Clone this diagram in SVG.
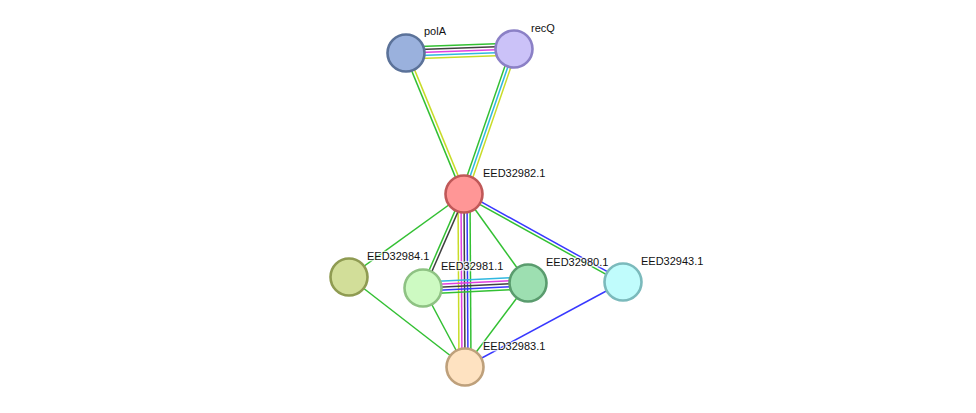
<svg xmlns="http://www.w3.org/2000/svg" width="976" height="413" viewBox="0 0 976 413">
<style>
.e{stroke-width:1.5;fill:none}
.g{stroke:#33c033}.y{stroke:#c8dc28}.k{stroke:#404040}.m{stroke:#e040e0}.c{stroke:#30b8e0}.b{stroke:#3838ff}
.n{stroke-width:2.6}
text{font-family:"Liberation Sans",Arial,sans-serif;font-size:11px;fill:#111;paint-order:stroke;stroke:#fff;stroke-width:2.5px;stroke-opacity:0.7}
</style>
<rect width="976" height="413" fill="#fff"/>
<g id="edges">
<line class="e g" x1="406" y1="47" x2="514" y2="43"/>
<line class="e k" x1="406" y1="50" x2="514" y2="46"/>
<line class="e m" x1="406" y1="53" x2="514" y2="49"/>
<line class="e c" x1="406" y1="56" x2="514" y2="52"/>
<line class="e y" x1="406" y1="59" x2="514" y2="55"/>
<line class="e g" x1="404.6" y1="53.6" x2="462.6" y2="194.6"/>
<line class="e y" x1="407.4" y1="52.4" x2="465.4" y2="193.4"/>
<line class="e g" x1="511.2" y1="48" x2="461.2" y2="193"/>
<line class="e c" x1="514" y1="49" x2="464" y2="194"/>
<line class="e y" x1="516.8" y1="50" x2="466.8" y2="195"/>
<line class="e y" x1="458" y1="194" x2="459" y2="367"/>
<line class="e m" x1="461" y1="194" x2="462" y2="367"/>
<line class="e k" x1="464" y1="194" x2="465" y2="367"/>
<line class="e b" x1="467" y1="194" x2="468" y2="367"/>
<line class="e g" x1="470" y1="194" x2="471" y2="367"/>
<line class="e g" x1="464" y1="194" x2="349" y2="277"/>
<line class="e g" x1="462.6" y1="193.4" x2="421.6" y2="287.4"/>
<line class="e k" x1="465.4" y1="194.6" x2="424.4" y2="288.6"/>
<line class="e g" x1="464" y1="194" x2="528" y2="283"/>
<line class="e b" x1="464.7" y1="192.7" x2="623.7" y2="280.7"/>
<line class="e g" x1="463.3" y1="195.3" x2="622.3" y2="283.3"/>
<line class="e c" x1="423" y1="282" x2="528" y2="277"/>
<line class="e m" x1="423" y1="285" x2="528" y2="280"/>
<line class="e k" x1="423" y1="288" x2="528" y2="283"/>
<line class="e b" x1="423" y1="291" x2="528" y2="286"/>
<line class="e g" x1="423" y1="294" x2="528" y2="289"/>
<line class="e g" x1="349" y1="277" x2="465" y2="367"/>
<line class="e g" x1="423" y1="288" x2="465" y2="367"/>
<line class="e g" x1="528" y1="283" x2="465" y2="367"/>
<line class="e b" x1="623" y1="282" x2="465" y2="367"/>
</g>
<g id="polA"><circle class="n" cx="406" cy="53" r="18.5" fill="#9ab1dd" stroke="#5b7299"/><text x="424" y="35">polA</text></g>
<g id="recQ"><circle class="n" cx="514" cy="49" r="18.5" fill="#cbc2f8" stroke="#8b80c6"/><text x="531" y="32">recQ</text></g>
<g id="EED32982.1"><circle class="n" cx="464" cy="194" r="18.5" fill="#ff9696" stroke="#c05858"/><text x="483" y="177">EED32982.1</text></g>
<g id="EED32984.1"><circle class="n" cx="349" cy="277" r="18.5" fill="#d2de99" stroke="#8f9b52"/><text x="367" y="260">EED32984.1</text></g>
<g id="EED32981.1"><circle class="n" cx="423" cy="288" r="18.5" fill="#cdfac2" stroke="#8ec283"/><text x="441" y="270">EED32981.1</text></g>
<g id="EED32980.1"><circle class="n" cx="528" cy="283" r="18.5" fill="#9ddfb1" stroke="#5a9c6e"/><text x="546" y="266">EED32980.1</text></g>
<g id="EED32943.1"><circle class="n" cx="623" cy="282" r="18.5" fill="#c0fcfc" stroke="#7bbabc"/><text x="641" y="265">EED32943.1</text></g>
<g id="EED32983.1"><circle class="n" cx="465" cy="367" r="18.5" fill="#fee2c1" stroke="#bea07b"/><text x="483" y="350">EED32983.1</text></g>
</svg>
